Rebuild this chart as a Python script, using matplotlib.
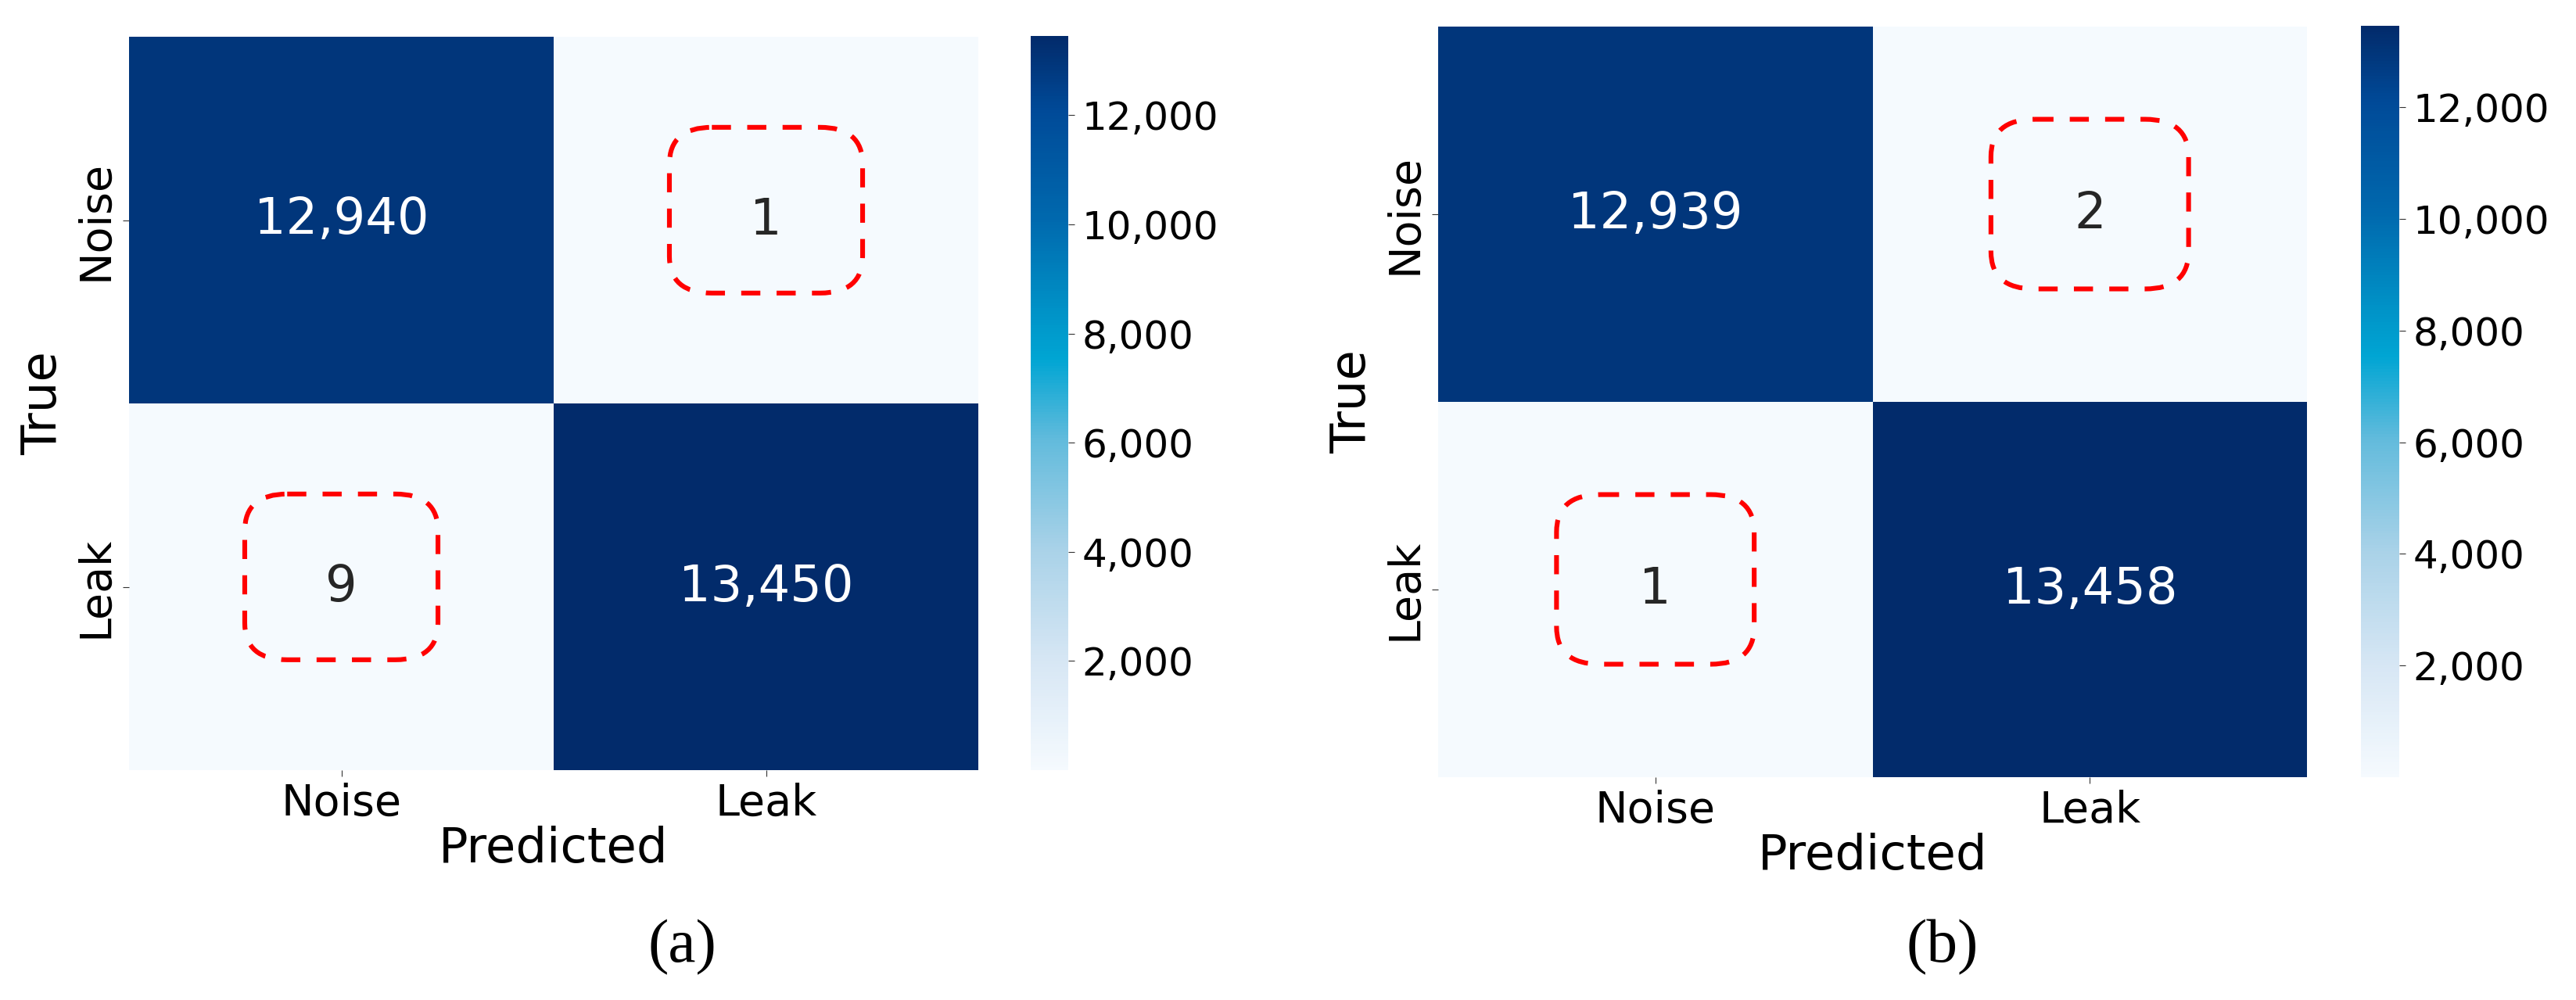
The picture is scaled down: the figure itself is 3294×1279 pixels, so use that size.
import numpy as np
import matplotlib
matplotlib.use("Agg")
import matplotlib.pyplot as plt
from matplotlib.colors import LinearSegmentedColormap, Normalize, to_rgb
from matplotlib.patches import FancyBboxPatch
from matplotlib.ticker import FuncFormatter

# ---------------- data ----------------
classes = ["Noise", "Leak"]
cm_a = [[12940, 1], [9, 13450]]
cm_b = [[12939, 2], [1, 13458]]
panel_tags = ["(a)", "(b)"]
cbar_ticks = [2000, 4000, 6000, 8000, 10000, 12000]
x_label = "Predicted"
y_label = "True"

# ---------------- style ----------------
cmap = LinearSegmentedColormap.from_list(
    "leak_blues",
    [(0.00, "#F5FAFE"), (0.15, "#D6E6F4"), (0.30, "#A9D2E8"),
     (0.45, "#62BBDC"), (0.56, "#00A5D3"), (0.62, "#0094C8"),
     (0.75, "#0069AE"), (0.90, "#004A98"), (1.00, "#022B6B")])

W, H = 3294, 1279
fig = plt.figure(figsize=(W / 100, H / 100), dpi=100)
plt.rcParams["font.family"] = ["DejaVu Sans"]


def px_rect(l, r, t, b):
    return [l / W, (H - b) / H, (r - l) / W, (b - t) / H]


layouts = [
    dict(ax=px_rect(165, 1251, 47, 985), cax=px_rect(1318, 1366, 46, 985), tag_x=872),
    dict(ax=px_rect(1839, 2950, 34, 994), cax=px_rect(3019, 3068, 33, 994), tag_x=2484),
]


def rel_lum(c):
    r, g, b = to_rgb(c)
    def f(v):
        return v / 12.92 if v <= 0.03928 else ((v + 0.055) / 1.055) ** 2.4
    return 0.2126 * f(r) + 0.7152 * f(g) + 0.0722 * f(b)


for cm, tag, lay in zip([cm_a, cm_b], panel_tags, layouts):
    data = np.array(cm, dtype=float)
    n = len(classes)
    norm = Normalize(vmin=data.min(), vmax=data.max())
    ax = fig.add_axes(lay["ax"])
    mesh = ax.pcolormesh(np.arange(n + 1), np.arange(n + 1), data,
                         cmap=cmap, norm=norm, shading="flat")
    ax.set_xlim(0, n)
    ax.set_ylim(n, 0)
    for s in ax.spines.values():
        s.set_visible(False)

    for i in range(n):
        for j in range(n):
            v = cm[i][j]
            col = cmap(norm(v))
            tc = "#262626" if rel_lum(col) > 0.408 else "white"
            ax.text(j + 0.5, i + 0.5, f"{v:,}", ha="center", va="center",
                    fontsize=46, color=tc)
            if i != j:
                bw, bh = 0.455, 0.452
                box = FancyBboxPatch((j + 0.5 - bw / 2, i + 0.473 - bh / 2), bw, bh,
                                     boxstyle="round,pad=0,rounding_size=0.1",
                                     fill=False, edgecolor="#FF0000", linewidth=4.4,
                                     linestyle=(0, (4.0, 3.4)), zorder=5)
                ax.add_patch(box)

    ax.set_xticks(np.arange(n) + 0.5)
    ax.set_yticks(np.arange(n) + 0.5)
    ax.set_xticklabels(classes, fontsize=40)
    ax.set_yticklabels(classes, fontsize=40, rotation=90, va="center")
    ax.tick_params(length=5.8, width=0.8, color="#333333", pad=5.5)

    axw = lay["ax"][2] * W
    axh = lay["ax"][3] * H
    ax.set_xlabel(x_label, fontsize=45)
    ax.set_ylabel(y_label, fontsize=45)
    ax.xaxis.set_label_coords(0.5, -71 / axh)
    ax.yaxis.set_label_coords(-80 / axw, 0.5)

    cax = fig.add_axes(lay["cax"])
    cb = fig.colorbar(mesh, cax=cax, ticks=cbar_ticks,
                      format=FuncFormatter(lambda v, p: f"{v:,.0f}"))
    cb.outline.set_visible(False)
    cax.tick_params(labelsize=36, length=5.8, width=0.8, color="#333333", pad=7)

    fig.text(lay["tag_x"] / W, (H - 1212) / H, tag, ha="center", va="center",
             fontsize=57, family=["Liberation Serif"])

fig.savefig("out.png", dpi=100, facecolor="white")
